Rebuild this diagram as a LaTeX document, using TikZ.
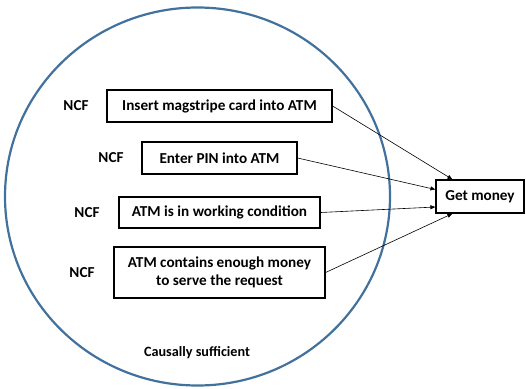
\documentclass[tikz,border=0pt]{standalone}
\usepackage{fontspec}
\setmainfont{Carlito}
\usetikzlibrary{arrows.meta,shapes.geometric}
\begin{document}
\begin{tikzpicture}[x=1pt,y=-1pt,
  font=\fontsize{15.2}{18}\selectfont\bfseries,
  cbox/.style={draw, line width=1.2pt, inner sep=0pt, align=center},
  lbl/.style={inner sep=0pt},
  conn/.style={-{Triangle[length=5pt,width=4pt]}, line width=0.6pt}]
\useasboundingbox (0,0) rectangle (526,388);
\node[draw={rgb,255:red,65;green,113;blue,156}, line width=2.2pt, ellipse, minimum width=385pt, minimum height=378pt, inner sep=0pt] (circ) at (197.5,196.5) {};
\node[cbox, minimum width=225pt, minimum height=32pt] (b1) at (219.5,106) {Insert magstripe card into ATM};
\node[cbox, minimum width=155pt, minimum height=32pt] (b2) at (219.5,158) {Enter PIN into ATM};
\node[cbox, minimum width=201pt, minimum height=31pt] (b3) at (219.5,212.5) {ATM is in working condition};
\node[cbox, minimum width=211pt, minimum height=51pt] (b4) at (219.5,272.5) {ATM contains enough money\\to serve the request};
\node[cbox, minimum width=88pt, minimum height=33pt] (g) at (480,196.5) {Get money};
\node[lbl] (n1) at (76,106) {NCF};
\node[lbl] (n2) at (111,158) {NCF};
\node[lbl] (n3) at (87,213) {NCF};
\node[lbl] (n4) at (82,273) {NCF};
\node[lbl] (cs) at (197,353) {\fontsize{14.2}{17}\selectfont Causally sufficient};
\draw[conn] (b1.east) -- ([xshift=17pt]g.north west);
\draw[conn] (b2.east) -- ([yshift=7pt]g.west);
\draw[conn] (b3.east) -- ([yshift=-10.5pt]g.west);
\draw[conn] (b4.east) -- ([xshift=17pt]g.south west);
\end{tikzpicture}
\end{document}
